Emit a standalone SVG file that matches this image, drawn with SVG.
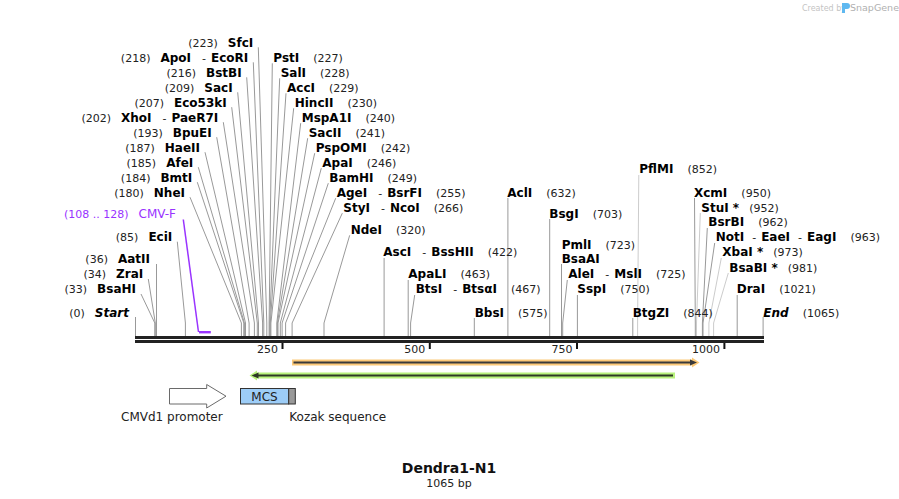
<svg xmlns="http://www.w3.org/2000/svg" width="899" height="499" viewBox="0 0 899 499">
<style>
text{font-family:"DejaVu Sans",Verdana,sans-serif;fill:#111}
.b{font-weight:bold;font-size:12px;fill:#000}
.n{font-size:11px;fill:#222}
.s{font-size:11px;fill:#222}
.i{font-style:italic}
.f{font-size:12px;fill:#222}
.p{fill:#9933ff}
.ld{fill:none;stroke:#999;stroke-width:1}
.lt{fill:none;stroke:#ccc;stroke-width:1}
</style>
<rect width="899" height="499" fill="#fff"/>

<g id="watermark">
<text x="802" y="10.5" style="font-size:8px;fill:#c4c4c4">Created by</text>
<path d="M842 3h5a3 3 0 0 1 0 6h-2v4h-3z" fill="#5fb8f0"/>
<text x="850" y="11" style="font-size:9.5px;fill:#b0b0b0">SnapGene</text>
</g>

<g id="sequence">
<rect x="135" y="336" width="629" height="3" fill="#222"/>
<rect x="135" y="340" width="629" height="3" fill="#222"/>
<rect x="281.5" y="343" width="2" height="6" fill="#111"/>
<rect x="428.8" y="343" width="2" height="6" fill="#111"/>
<rect x="576" y="343" width="2" height="6" fill="#111"/>
<rect x="723.4" y="343" width="2" height="6" fill="#111"/>
<text class="s" x="278" y="353" text-anchor="end">250</text>
<text class="s" x="425.3" y="353" text-anchor="end">500</text>
<text class="s" x="572.5" y="353" text-anchor="end">750</text>
<text class="s" x="719.9" y="353" text-anchor="end">1000</text>
</g>

<g id="connectors">
<polyline class="ld" points="258.3,47.3 266.8,323 266.8,336"/>
<polyline class="ld" points="253.3,62.3 263.8,323 263.8,336"/>
<polyline class="ld" points="246.7,77.3 262.6,323 262.6,336"/>
<polyline class="ld" points="237.7,92.3 258.5,323 258.5,336"/>
<polyline class="ld" points="231.7,107.2 257.3,323 257.3,336"/>
<polyline class="ld" points="223.3,122.2 254.4,323 254.4,336"/>
<polyline class="ld" points="216.7,137.2 249.1,323 249.1,336"/>
<polyline class="ld" points="205,152.2 245.5,323 245.5,336"/>
<polyline class="ld" points="198.3,167.2 244.4,323 244.4,336"/>
<polyline class="ld" points="197.3,182.2 243.8,323 243.8,336"/>
<polyline class="ld" points="190,197.2 241.4,323 241.4,336"/>
<polyline class="ld" points="177.3,241.7 185.4,323 185.4,336"/>
<polyline class="ld" points="156.5,264 156.5,336"/>
<polyline class="ld" points="148.3,279 155.3,323 155.3,336"/>
<polyline class="ld" points="141,294 154.8,323 154.8,336"/>
<polyline class="ld" points="135.5,317 135.5,336"/>
<polyline class="ld" points="272.3,63.3 269.1,323 269.1,336"/>
<polyline class="ld" points="279.7,78.3 269.7,323 269.7,336"/>
<polyline class="ld" points="286,93.3 270.3,323 270.3,336"/>
<polyline class="ld" points="293.7,108.2 270.9,323 270.9,336"/>
<polyline class="ld" points="300.7,123.2 276.8,323 276.8,336"/>
<polyline class="ld" points="307.7,138.2 277.4,323 277.4,336"/>
<polyline class="ld" points="314.7,153.2 278,323 278,336"/>
<polyline class="ld" points="321.3,168.2 280.3,323 280.3,336"/>
<polyline class="ld" points="328.3,183.2 282.1,323 282.1,336"/>
<polyline class="ld" points="335.7,198.2 285.6,323 285.6,336"/>
<polyline class="ld" points="342.3,213.2 292.1,323 292.1,336"/>
<polyline class="ld" points="349.7,235.3 324,323 324,336"/>
<polyline class="ld" points="384.1,258 384.1,336"/>
<polyline class="ld" points="408.2,280 408.2,336"/>
<polyline class="ld" points="414.7,295 410.6,323 410.6,336"/>
<polyline class="ld" points="474.3,318 474.3,336"/>
<polyline class="ld" points="507.9,198 507.9,336"/>
<polyline class="ld" points="549.7,219 549.7,336"/>
<polyline class="ld" points="561.5,264 561.5,336"/>
<polyline class="ld" points="567.3,280 562.7,323 562.7,336"/>
<polyline class="ld" points="577.4,295 577.4,336"/>
<polyline class="ld" points="632.8,318 632.8,336"/>
<polyline class="lt" points="638.8,175 637.6,323 637.6,336"/>
<polyline class="ld" points="694.5,198 695.3,323 695.3,336"/>
<polyline class="lt" points="700.3,213 696.5,323 696.5,336"/>
<polyline class="ld" points="707.3,228 702.4,323 702.4,336"/>
<polyline class="ld" points="714.7,243 703,323 703,336"/>
<polyline class="lt" points="721.3,258 708.9,323 708.9,336"/>
<polyline class="lt" points="728.3,273 713.6,323 713.6,336"/>
<polyline class="ld" points="737.2,295 737.2,336"/>
<polyline class="ld" points="763.1,317 763.1,336"/>
<polyline points="183.3,219.5 198.5,332" fill="none" stroke="#9933ff" stroke-width="1.5"/>
</g>

<g id="left-labels">
<text x="253.3" y="46.7" text-anchor="end"><tspan class="n">(223)</tspan><tspan class="b" dx="10">SfcI</tspan></text>
<text x="248.3" y="61.7" text-anchor="end"><tspan class="n">(218)</tspan><tspan class="b" dx="10">ApoI</tspan><tspan class="n" dx="11">-</tspan><tspan class="b" dx="5">EcoRI</tspan></text>
<text x="241.7" y="76.7" text-anchor="end"><tspan class="n">(216)</tspan><tspan class="b" dx="10">BstBI</tspan></text>
<text x="232.7" y="91.7" text-anchor="end"><tspan class="n">(209)</tspan><tspan class="b" dx="10">SacI</tspan></text>
<text x="226.7" y="106.6" text-anchor="end"><tspan class="n">(207)</tspan><tspan class="b" dx="10">Eco53kI</tspan></text>
<text x="218.3" y="121.6" text-anchor="end"><tspan class="n">(202)</tspan><tspan class="b" dx="10">XhoI</tspan><tspan class="n" dx="11">-</tspan><tspan class="b" dx="5">PaeR7I</tspan></text>
<text x="211.7" y="136.6" text-anchor="end"><tspan class="n">(193)</tspan><tspan class="b" dx="10">BpuEI</tspan></text>
<text x="200" y="151.6" text-anchor="end"><tspan class="n">(187)</tspan><tspan class="b" dx="10">HaeII</tspan></text>
<text x="193.3" y="166.6" text-anchor="end"><tspan class="n">(185)</tspan><tspan class="b" dx="10">AfeI</tspan></text>
<text x="192.3" y="181.6" text-anchor="end"><tspan class="n">(184)</tspan><tspan class="b" dx="10">BmtI</tspan></text>
<text x="185" y="196.6" text-anchor="end"><tspan class="n">(180)</tspan><tspan class="b" dx="10">NheI</tspan></text>
<text x="176" y="217.7" text-anchor="end"><tspan class="n p">(108 .. 128)</tspan><tspan class="f p" dx="10">CMV-F</tspan></text>
<text x="172.3" y="241.1" text-anchor="end"><tspan class="n">(85)</tspan><tspan class="b" dx="10">EciI</tspan></text>
<text x="150" y="263.4" text-anchor="end"><tspan class="n">(36)</tspan><tspan class="b" dx="10">AatII</tspan></text>
<text x="143.3" y="278.4" text-anchor="end"><tspan class="n">(34)</tspan><tspan class="b" dx="10">ZraI</tspan></text>
<text x="136" y="293.4" text-anchor="end"><tspan class="n">(33)</tspan><tspan class="b" dx="10">BsaHI</tspan></text>
<text x="129" y="316.7" text-anchor="end"><tspan class="n">(0)</tspan><tspan class="b i" dx="10">Start</tspan></text>
</g>

<g id="right-labels">
<text x="273.3" y="61.7"><tspan class="b">PstI</tspan><tspan class="n" dx="14">(227)</tspan></text>
<text x="280.7" y="76.7"><tspan class="b">SalI</tspan><tspan class="n" dx="14">(228)</tspan></text>
<text x="287" y="91.7"><tspan class="b">AccI</tspan><tspan class="n" dx="14">(229)</tspan></text>
<text x="294.7" y="106.6"><tspan class="b">HincII</tspan><tspan class="n" dx="14">(230)</tspan></text>
<text x="301.7" y="121.6"><tspan class="b">MspA1I</tspan><tspan class="n" dx="14">(240)</tspan></text>
<text x="308.7" y="136.6"><tspan class="b">SacII</tspan><tspan class="n" dx="14">(241)</tspan></text>
<text x="315.7" y="151.6"><tspan class="b">PspOMI</tspan><tspan class="n" dx="14">(242)</tspan></text>
<text x="322.3" y="166.6"><tspan class="b">ApaI</tspan><tspan class="n" dx="14">(246)</tspan></text>
<text x="329.3" y="181.6"><tspan class="b">BamHI</tspan><tspan class="n" dx="14">(249)</tspan></text>
<text x="336.7" y="196.6"><tspan class="b">AgeI</tspan><tspan class="n" dx="11">-</tspan><tspan class="b" dx="5">BsrFI</tspan><tspan class="n" dx="14">(255)</tspan></text>
<text x="343.3" y="211.6"><tspan class="b">StyI</tspan><tspan class="n" dx="11">-</tspan><tspan class="b" dx="5">NcoI</tspan><tspan class="n" dx="14">(266)</tspan></text>
<text x="350.7" y="233.7"><tspan class="b">NdeI</tspan><tspan class="n" dx="14">(320)</tspan></text>
<text x="383.3" y="256.4"><tspan class="b">AscI</tspan><tspan class="n" dx="11">-</tspan><tspan class="b" dx="5">BssHII</tspan><tspan class="n" dx="14">(422)</tspan></text>
<text x="408.3" y="278.4"><tspan class="b">ApaLI</tspan><tspan class="n" dx="14">(463)</tspan></text>
<text x="415.7" y="293.4"><tspan class="b">BtsI</tspan><tspan class="n" dx="11">-</tspan><tspan class="b" dx="5">BtsαI</tspan><tspan class="n" dx="14">(467)</tspan></text>
<text x="474.7" y="316.7"><tspan class="b">BbsI</tspan><tspan class="n" dx="14">(575)</tspan></text>
<text x="507.3" y="196.7"><tspan class="b">AclI</tspan><tspan class="n" dx="14">(632)</tspan></text>
<text x="549.3" y="217.7"><tspan class="b">BsgI</tspan><tspan class="n" dx="14">(703)</tspan></text>
<text x="561.7" y="248.7"><tspan class="b">PmlI</tspan><tspan class="n" dx="14">(723)</tspan></text>
<text x="561.7" y="262.7" class="b">BsaAI</text>
<text x="568.3" y="278.4"><tspan class="b">AleI</tspan><tspan class="n" dx="11">-</tspan><tspan class="b" dx="5">MslI</tspan><tspan class="n" dx="14">(725)</tspan></text>
<text x="577.3" y="293.4"><tspan class="b">SspI</tspan><tspan class="n" dx="14">(750)</tspan></text>
<text x="632.7" y="316.7"><tspan class="b">BtgZI</tspan><tspan class="n" dx="14">(844)</tspan></text>
<text x="639.3" y="173.4"><tspan class="b">PflMI</tspan><tspan class="n" dx="14">(852)</tspan></text>
<text x="694" y="196.7"><tspan class="b">XcmI</tspan><tspan class="n" dx="14">(950)</tspan></text>
<text x="701.3" y="211.7"><tspan class="b">StuI *</tspan><tspan class="n" dx="10">(952)</tspan></text>
<text x="708.3" y="226.4"><tspan class="b">BsrBI</tspan><tspan class="n" dx="14">(962)</tspan></text>
<text x="715.7" y="241.4"><tspan class="b">NotI</tspan><tspan class="n" dx="8">-</tspan><tspan class="b" dx="5">EaeI</tspan><tspan class="n" dx="8">-</tspan><tspan class="b" dx="5">EagI</tspan><tspan class="n" dx="14">(963)</tspan></text>
<text x="722.3" y="256.4"><tspan class="b">XbaI *</tspan><tspan class="n" dx="10">(973)</tspan></text>
<text x="729.3" y="271.7"><tspan class="b">BsaBI *</tspan><tspan class="n" dx="10">(981)</tspan></text>
<text x="736.7" y="293.4"><tspan class="b">DraI</tspan><tspan class="n" dx="14">(1021)</tspan></text>
<text x="763.3" y="316.7"><tspan class="b i">End</tspan><tspan class="n" dx="14">(1065)</tspan></text>
</g>

<g id="CMV-F-primer">
<rect x="199" y="331" width="11.8" height="2.4" fill="#9933ff"/>
</g>

<g id="orf-forward">
<polygon points="292,359.5 692,359.5 692,357.5 699.5,362.5 692,367.5 692,365.5 292,365.5" fill="#fcc978"/>
<rect x="293.5" y="361.5" width="397" height="2" fill="#3a3a3a"/>
<polygon points="690,359.5 697,362.5 690,365.5" fill="#3a3a3a"/>
</g>

<g id="orf-reverse">
<polygon points="249.5,375.5 257,370.5 257,372.5 675,372.5 675,378.5 257,378.5 257,380.5" fill="#b8f27c"/>
<rect x="258" y="374.5" width="415" height="2" fill="#2e3a25"/>
<polygon points="258.5,372.5 251.5,375.5 258.5,378.5" fill="#2e3a25"/>
</g>

<g id="CMVd1-promoter">
<polygon points="169.5,388.5 206.7,388.5 206.7,384.5 226,396.2 206.7,408 206.7,404 169.5,404" fill="#fff" stroke="#6a6a6a" stroke-width="1"/>
<text class="f" x="121" y="421">CMVd1 promoter</text>
</g>

<g id="MCS">
<rect x="240.5" y="388.5" width="48.2" height="15.5" fill="#9dcdf7" stroke="#333" stroke-width="1"/>
<text class="f" x="264.5" y="400.5" text-anchor="middle">MCS</text>
</g>

<g id="Kozak">
<rect x="288.7" y="388.5" width="6.6" height="15.5" fill="#999" stroke="#333" stroke-width="1"/>
<text class="f" x="289.3" y="421">Kozak sequence</text>
</g>

<g id="title">
<text x="449" y="473.4" text-anchor="middle" style="font-weight:bold;font-size:14px">Dendra1-N1</text>
<text x="449" y="487" text-anchor="middle" style="font-size:11px;fill:#222">1065 bp</text>
</g>
</svg>
